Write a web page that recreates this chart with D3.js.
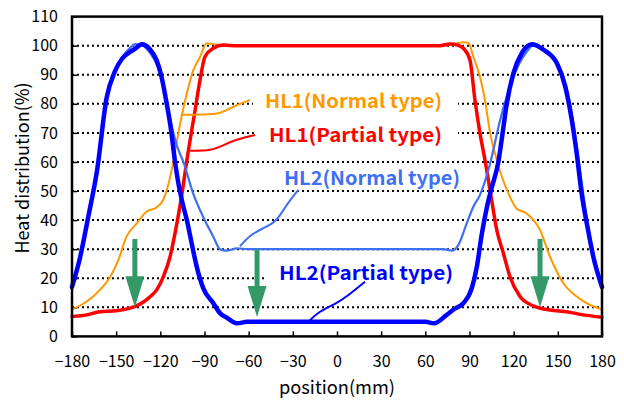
<!DOCTYPE html>
<html>
<head>
<meta charset="utf-8">
<script src="https://cdn.jsdelivr.net/npm/d3@7"></script>
<style>
  body { margin: 0; background: #fff; }
  text { font-family: "Noto Sans CJK JP", "Noto Sans", sans-serif; }
</style>
</head>
<body>
<div id="plot"></div>
<script>
// data: [position(mm), heat distribution(%)]
var hl1Normal = [[-180,9.3],[-170,12],[-161,16],[-154,20.5],[-148.5,26.3],[-143,34.3],[-136,38.9],[-129.5,42.9],
  [-122.5,44.4],[-118,47],[-112.3,57.2],[-109,66.4],[-105.5,75.8],[-102,83.6],[-97.6,91.6],[-93,96.2],[-88.5,100.8],
  [-84,100.5],[-75,100],[70,100],[80,100.5],[85.8,101.2],[89.2,101],[92.6,96.2],[97.1,89.3],[100.5,81.3],[104,70],
  [108.5,60.7],[116.4,49.2],[122,44],[128.8,42.3],[137.9,36.6],[144.7,27.4],[153.8,18.3],[162.8,13.7],[171.9,10.8],[180,9.3]];

var hl1Partial = [[-180,6.8],[-170,7.4],[-161,8.5],[-150,8.8],[-140.6,9.7],[-133.8,11.1],[-128.2,13.1],[-122.5,16],
  [-118,20.5],[-113.4,27.4],[-110,35.5],[-106.6,45],[-101,63.8],[-96.4,77.8],[-93,88.3],[-89.7,96.2],[-84,99.1],
  [-77.2,100.2],[-68,100],[70,100],[76.8,100.6],[82,100.2],[85.8,99.1],[90.3,95.1],[93.7,81.3],[97.1,69.9],[100.5,60.7],
  [105,47],[108.5,36.6],[113,28.6],[117.5,20.5],[124.3,13.7],[133.3,10.5],[144.7,9.1],[156,8.5],[167.3,7.4],[180,6.6]];

var hl2Normal = [[-180,18],[-174.6,27.5],[-169,41],[-163,57],[-156.5,82],[-151,91],[-146,96],[-141,99],[-137,100.5],
  [-132,100],[-127,97.5],[-122,93],[-118,86],[-113.5,75],[-109,66],[-104,59.5],[-97.6,49],[-90.8,41],[-84,34.3],
  [-79.5,30],[-75,29.5],[-68,30.3],[-60,30],[70,30],[72,30],[78,29.5],[82.4,31.4],[88.1,38.9],[92.6,44.6],[97,48.5],
  [104,59.5],[110.8,74.4],[117.6,86],[124,94],[129,98],[134.5,100.6],[140.5,99],[149.5,94.5],[155.5,86.5],[160,75],
  [163.5,63],[167,50],[170.5,38],[174.5,27.5],[180,18]];

var hl2Partial = [[-180,17],[-174.6,27],[-169,41],[-163,57],[-156.5,82],[-151,91],[-146,95.5],[-141.5,97.5],[-137,99],
  [-132.5,100.5],[-127.5,99],[-122.5,95],[-119.5,90],[-116,81],[-113,72],[-110,60],[-107.5,52],[-105,46],[-102,40],
  [-98.7,32],[-95.3,24],[-90.8,16.5],[-84,11.4],[-79.5,8],[-75,6.5],[-68,4.5],[-61,5],[60,5],[66,4.5],[74.5,7.4],
  [80,9.5],[85.8,11.4],[91.5,16.5],[95,24],[98.3,35],[102.5,46],[105,51],[109.6,60],[112.5,70],[115.3,80],[119.8,90.5],
  [125.5,97.4],[132.3,100.5],[140.2,98.6],[149.3,94],[155,86],[159.5,74.4],[162.8,63],[166.2,49],[170,38],[174.1,27.4],[180,17]];

var xTicks = [-180,-150,-120,-90,-60,-30,0,30,60,90,120,150,180];
var yTicks = [0,10,20,30,40,50,60,70,80,90,100,110];

// series labels and their leader lines (data units)
var labels = [
  {text:"HL1(Normal type)", x:-48.9, y:81, color:"#FF9900", len:177, box:true},
  {text:"HL1(Partial type)", x:-46.2, y:69.3, color:"#FF0000", len:173, box:true},
  {text:"HL2(Normal type)", x:-36, y:54.5, color:"#3F6FF5", len:176, box:false},
  {text:"HL2(Partial type)", x:-39.4, y:21.8, color:"#0000FF", len:174, box:true}
];
var leaders = [
  {color:"#FF9900", w:2, pts:[[-106,76.2],[-80.6,76.2],[-74.9,77.9],[-68.1,79.6],[-59.1,81.3]]},
  {color:"#FF0000", w:2, pts:[[-99.8,63.9],[-85.1,63.9],[-77.2,65.8],[-68.1,67.8],[-55.7,69.3]]},
  {color:"#3F6FF5", w:2, pts:[[-65.9,31],[-59.1,34.9],[-50.1,37.2],[-41,39.5],[-35.3,44.6],[-26.3,50.4]]},
  {color:"#0000FF", w:2, pts:[[-19.5,5],[-12.7,8.5],[-0.2,11.4],[6.6,13.7],[19,18.8]]}
];
// green arrows: position, start value, tip value
var arrows = [
  {x:-137.3, from:33.5, to:10},
  {x:-54.3, from:30, to:6.7},
  {x:137.9, from:33.5, to:10}
];

var width = 624, height = 402;
var mLeft = 72, mRight = 602, mTop = 16.6, mBottom = 336.4;

var svg = d3.select("#plot").append("svg").attr("width", width).attr("height", height);

var xscale = d3.scaleLinear().domain([-180, 180]).range([mLeft, mRight]);
var yscale = d3.scaleLinear().domain([0, 110]).range([mBottom, mTop]);

// dotted grid
svg.append("g").selectAll("line").data(yTicks.filter(function(d){ return d > 0 && d < 110; }))
  .enter().append("line")
  .attr("x1", mLeft).attr("x2", mRight)
  .attr("y1", function(d){ return yscale(d); }).attr("y2", function(d){ return yscale(d); })
  .attr("stroke", "#000").attr("stroke-width", 2).attr("stroke-dasharray", "2,3");

function fmt(d){ return d < 0 ? "\u2212" + Math.abs(d) : "" + d; }

var xaxis = d3.axisBottom(xscale).tickValues(xTicks).tickFormat(fmt).tickSizeInner(-5).tickSizeOuter(0).tickPadding(19);
var yaxis = d3.axisLeft(yscale).tickValues(yTicks).tickSizeInner(-5).tickSizeOuter(0).tickPadding(14);

var gx = svg.append("g").attr("transform", "translate(0," + mBottom + ")").call(xaxis);
var gy = svg.append("g").attr("transform", "translate(" + mLeft + ",0)").call(yaxis);
[gx, gy].forEach(function(g){
  g.select(".domain").remove();
  g.selectAll(".tick line").attr("stroke", "#000").attr("stroke-width", 1.5);
  g.selectAll("text").attr("font-size", "16px").attr("fill", "#000")
    .attr("font-family", "'Noto Sans CJK JP', sans-serif");
});

// white boxes + label text
var labelG = svg.append("g");
labels.forEach(function(l){
  var t = labelG.append("text")
    .attr("x", xscale(l.x)).attr("y", yscale(l.y)).attr("dy", "0.36em")
    .attr("font-size", "19px").attr("font-weight", "bold").attr("fill", l.color)
    .attr("textLength", l.len).attr("lengthAdjust", "spacingAndGlyphs")
    .text(l.text);
  if (l.box) {
    var b = t.node().getBBox();
    labelG.insert("rect", function(){ return t.node(); })
      .attr("x", b.x - 12).attr("y", b.y - 2).attr("width", b.width + 28).attr("height", b.height + 4)
      .attr("fill", "#fff");
  }
});

var line = d3.line()
  .x(function(d){ return xscale(d[0]); })
  .y(function(d){ return yscale(d[1]); })
  .curve(d3.curveMonotoneX);

var series = [
  {pts:hl1Normal, color:"#FF9900", w:2},
  {pts:hl1Partial, color:"#FF0000", w:3.5},
  {pts:hl2Normal, color:"#3F6FF5", w:2.2},
  {pts:hl2Partial, color:"#0000FF", w:4.5}
];
series.forEach(function(s){
  svg.append("path").datum(s.pts).attr("d", line)
    .attr("fill", "none").attr("stroke", s.color).attr("stroke-width", s.w)
    .attr("stroke-linejoin", "round").attr("stroke-linecap", "round");
});

var leadLine = d3.line()
  .x(function(d){ return xscale(d[0]); })
  .y(function(d){ return yscale(d[1]); })
  .curve(d3.curveBasis);
leaders.forEach(function(l){
  svg.append("path").datum(l.pts).attr("d", leadLine)
    .attr("fill", "none").attr("stroke", l.color).attr("stroke-width", l.w);
});

// arrows
var headH = 31, headW = 19, shaftW = 5;
arrows.forEach(function(a){
  var x = xscale(a.x), y0 = yscale(a.from), y1 = yscale(a.to);
  svg.append("rect").attr("x", x - shaftW / 2).attr("y", y0).attr("width", shaftW)
    .attr("height", y1 - headH - y0 + 1).attr("fill", "#339966");
  svg.append("path")
    .attr("d", "M" + (x - headW / 2) + "," + (y1 - headH) + "L" + (x + headW / 2) + "," + (y1 - headH) + "L" + x + "," + y1 + "Z")
    .attr("fill", "#339966");
});

// frame
svg.append("rect").attr("x", mLeft).attr("y", mTop).attr("width", mRight - mLeft).attr("height", mBottom - mTop)
  .attr("fill", "none").attr("stroke", "#000").attr("stroke-width", 2.5);

// axis titles
svg.append("text").attr("x", (mLeft + mRight) / 2).attr("y", 394)
  .attr("text-anchor", "middle").attr("font-size", "18px").attr("fill", "#000")
  .attr("textLength", 116).attr("lengthAdjust", "spacingAndGlyphs")
  .text("position(mm)");

svg.append("text").attr("transform", "translate(29,168) rotate(-90)")
  .attr("text-anchor", "middle").attr("font-size", "18px").attr("fill", "#000")
  .attr("textLength", 171).attr("lengthAdjust", "spacingAndGlyphs")
  .text("Heat distribution(%)");
</script>
</body>
</html>
